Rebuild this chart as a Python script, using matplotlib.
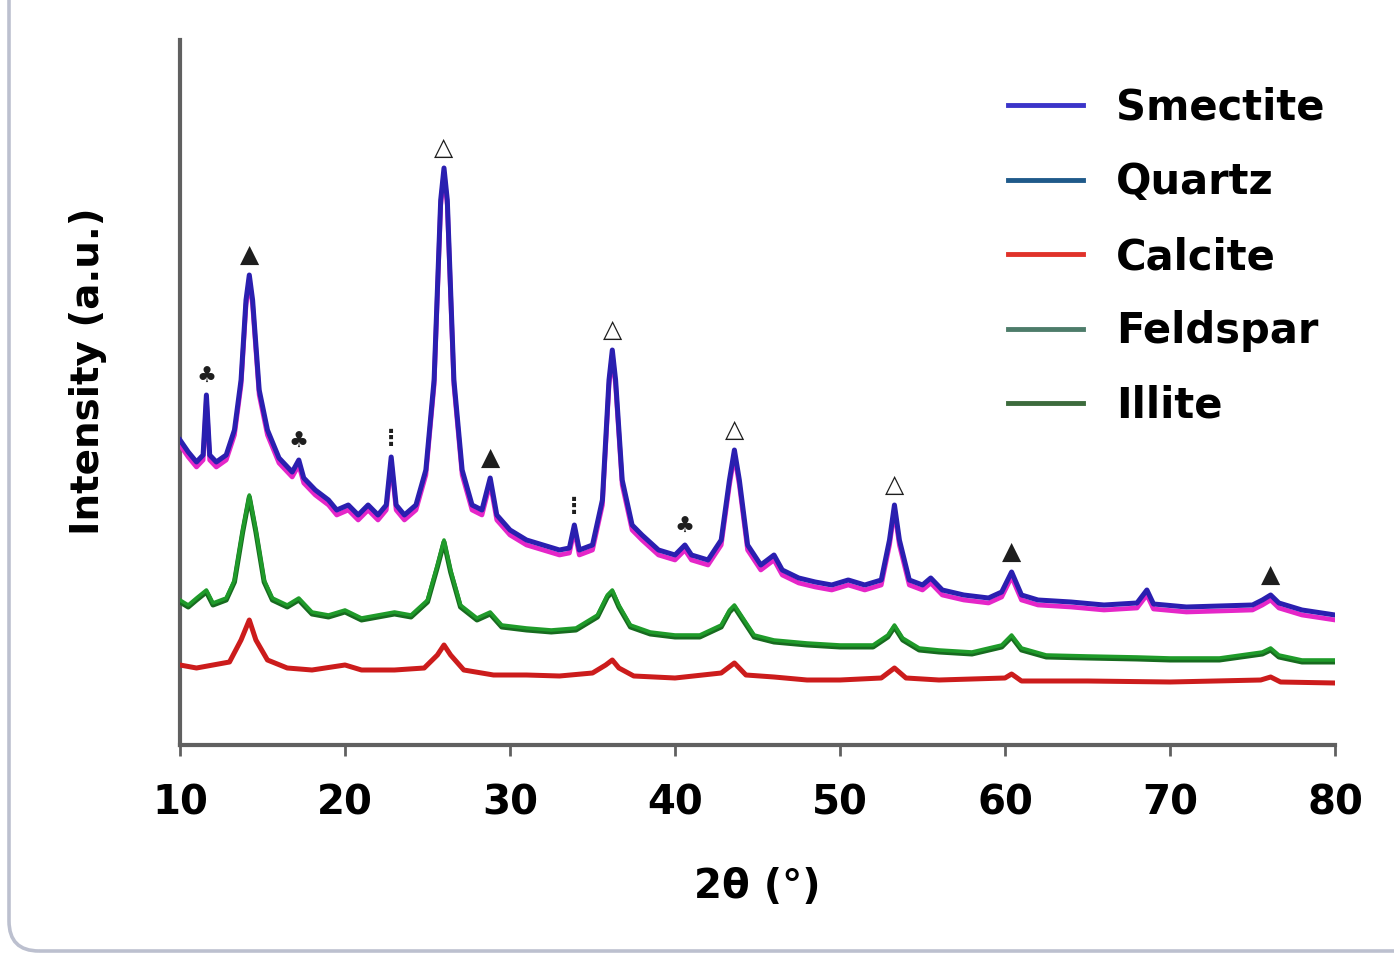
import numpy as np
import matplotlib
matplotlib.use("Agg")
import matplotlib.pyplot as plt
from matplotlib.patches import FancyBboxPatch
from matplotlib.lines import Line2D

# ---- data (2theta in degrees, intensity in arbitrary units) ----
top_x = [10.0, 10.5, 11.0, 11.4, 11.6, 11.8, 12.2, 12.8, 13.3, 13.7, 14.0, 14.2, 14.4, 14.8, 15.3,
         16.0, 16.8, 17.2, 17.5, 18.2, 19.0, 19.5, 20.2, 20.8, 21.4, 22.0, 22.5, 22.8, 23.1, 23.6,
         24.3, 24.9, 25.4, 25.8, 26.0, 26.2, 26.6, 27.1, 27.7, 28.3, 28.8, 29.2, 30.0, 31.0, 32.0,
         33.0, 33.6, 33.9, 34.2, 35.0, 35.6, 36.0, 36.2, 36.4, 36.8, 37.4, 38.0, 39.0, 40.0, 40.6,
         41.0, 42.0, 42.8, 43.3, 43.6, 43.9, 44.4, 45.2, 46.0, 46.5, 47.5, 48.5, 49.5, 50.5, 51.5,
         52.5, 53.0, 53.3, 53.6, 54.2, 55.0, 55.5, 56.2, 57.5, 59.0, 59.8, 60.4, 61.0, 62.0, 64.0,
         66.0, 68.0, 68.6, 69.0, 71.0, 73.0, 75.0, 75.6, 76.1, 76.6, 78.0, 80.0]
top_y = [305, 293, 283, 290, 350, 290, 283, 290, 315, 365, 445, 470, 445, 355, 315,
         287, 273, 285, 267, 255, 245, 235, 240, 230, 240, 230, 240, 288, 240, 230,
         240, 275, 365, 545, 577, 545, 365, 275, 240, 235, 267, 230, 215, 205, 200,
         195, 197, 220, 195, 200, 245, 365, 395, 365, 265, 220, 210, 195, 190, 200,
         190, 185, 205, 265, 295, 265, 200, 180, 190, 175, 167, 163, 160, 165, 160,
         165, 205, 240, 205, 165, 160, 167, 155, 150, 147, 153, 173, 150, 145, 143,
         140, 142, 155, 141, 138, 139, 140, 145, 150, 142, 135, 130]

mid_x = [10.0, 10.5, 11.0, 11.6, 12.0, 12.8, 13.3, 13.8, 14.2, 14.6, 15.1, 15.6, 16.5, 17.2, 18.0,
         19.0, 20.0, 21.0, 22.0, 23.0, 24.0, 25.0, 25.6, 26.0, 26.4, 27.0, 28.0, 28.8, 29.5, 31.0,
         32.5, 34.0, 35.3, 35.9, 36.2, 36.6, 37.3, 38.5, 40.0, 41.5, 42.8, 43.3, 43.6, 44.0, 44.8,
         46.0, 48.0, 50.0, 52.0, 52.9, 53.3, 53.8, 54.8, 56.0, 58.0, 59.8, 60.4, 61.0, 62.5, 65.0,
         68.0, 70.0, 73.0, 75.6, 76.1, 76.6, 78.0, 80.0]
mid_y = [145, 140, 147, 155, 142, 147, 165, 215, 250, 215, 165, 147, 140, 147, 133,
         130, 135, 127, 130, 133, 130, 145, 180, 205, 175, 140, 127, 133, 120, 117,
         115, 117, 130, 150, 155, 140, 120, 113, 110, 110, 120, 135, 140, 130, 110,
         105, 102, 100, 100, 110, 120, 107, 97, 95, 93, 100, 110, 97, 90, 89,
         88, 87, 87, 93, 97, 90, 85, 85]

bot_x = [10.0, 11.0, 12.0, 13.0, 13.7, 14.2, 14.6, 15.3, 16.5, 18.0, 20.0, 21.0, 23.0, 24.8, 25.6,
         26.0, 26.4, 27.2, 29.0, 31.0, 33.0, 35.0, 35.8, 36.2, 36.6, 37.5, 40.0, 42.8, 43.6, 44.3,
         46.0, 48.0, 50.0, 52.5, 53.3, 54.0, 56.0, 60.0, 60.4, 61.0, 65.0, 70.0, 75.5, 76.1, 76.7, 80.0]
bot_y = [80, 77, 80, 83, 105, 125, 105, 85, 77, 75, 80, 75, 75, 77, 90,
         100, 90, 75, 70, 70, 69, 72, 80, 85, 77, 69, 67, 72, 82, 70,
         68, 65, 65, 67, 77, 67, 65, 67, 71, 64, 64, 63, 65, 68, 63, 62]

# peak phase markers
mark_x = [11.6, 14.2, 17.2, 22.8, 26.0, 28.8, 33.9, 36.2, 40.6, 43.6, 53.3, 60.4, 76.1]
mark_sym = ["♣", "▲", "♣", "⋮", "△", "▲", "⋮", "△", "♣", "△", "△", "▲", "▲"]

legend_labels = ["Smectite", "Quartz", "Calcite", "Feldspar", "Illite"]
legend_colors = ["#3b34c9", "#1f5a8a", "#e0322a", "#4d7c6a", "#3c6b3c"]

xticks = [10, 20, 30, 40, 50, 60, 70, 80]

# ---- figure ----
W, H = 1394, 955
fig = plt.figure(figsize=(W / 100, H / 100), dpi=100)
fig.patch.set_facecolor("white")

# rounded frame around the panel (in inches so the corner is round)
frame = FancyBboxPatch((0.09, 0.04), 16.0, 11.0, transform=fig.dpi_scale_trans,
                       boxstyle="round,pad=0,rounding_size=0.3", fill=False,
                       edgecolor="#bcc0cf", linewidth=2.6, zorder=0)
fig.patches.append(frame)

ax = fig.add_axes([180 / W, 210 / H, (1335 - 180) / W, (745 - 40) / H])
ax.set_xlim(10, 80)
ax.set_ylim(0, 705)

# traces
ax.plot(top_x, np.array(top_y) - 5, color="#e526c8", lw=3.4, solid_joinstyle="round", zorder=3)
ax.plot(top_x, top_y, color="#2a1fb0", lw=3.6, solid_joinstyle="round", zorder=4)
ax.plot(mid_x, np.array(mid_y) - 2, color="#176b1f", lw=3.6, solid_joinstyle="round", zorder=3)
ax.plot(mid_x, mid_y, color="#1f9b2a", lw=2.6, solid_joinstyle="round", zorder=4)
ax.plot(bot_x, bot_y, color="#cc1c1c", lw=3.6, solid_joinstyle="round", zorder=3)

# markers above peaks
for mx, ms in zip(mark_x, mark_sym):
    py = np.interp(mx, top_x, top_y)
    size = 18 if ms in ("▲", "△") else 16
    ax.annotate(ms, (mx, py), xytext=(0, 6), textcoords="offset points",
                ha="center", va="bottom", fontsize=size, color="#1e1e1e",
                fontweight="bold", zorder=5)

# axes styling
for s in ("top", "right"):
    ax.spines[s].set_visible(False)
for s in ("left", "bottom"):
    ax.spines[s].set_color("#606060")
    ax.spines[s].set_linewidth(3)
ax.set_yticks([])
ax.set_xticks(xticks)
ax.set_xticklabels([str(t) for t in xticks])
ax.tick_params(axis="x", direction="out", length=8, width=2, color="#606060",
               labelsize=29, pad=20)
for lab in ax.get_xticklabels():
    lab.set_fontweight("bold")
ax.set_xlabel("2θ (°)", fontsize=29, fontweight="bold")
ax.xaxis.set_label_coords(0.5, -0.173)
ax.set_ylabel("Intensity (a.u.)", fontsize=28, fontweight="bold")
ax.yaxis.set_label_coords(-0.063, 0.53)

# legend
handles = [Line2D([0], [0], color=c, lw=3.5) for c in legend_colors]
leg = fig.legend(handles, legend_labels, loc="upper left",
                 bbox_to_anchor=(1008 / W, (H - 87) / H),
                 frameon=False, prop={"size": 30, "weight": "bold"},
                 handlelength=1.8, handletextpad=0.8, labelspacing=0.78,
                 borderpad=0.0, borderaxespad=0.0)

fig.savefig("out.png", dpi=100, facecolor="white")
